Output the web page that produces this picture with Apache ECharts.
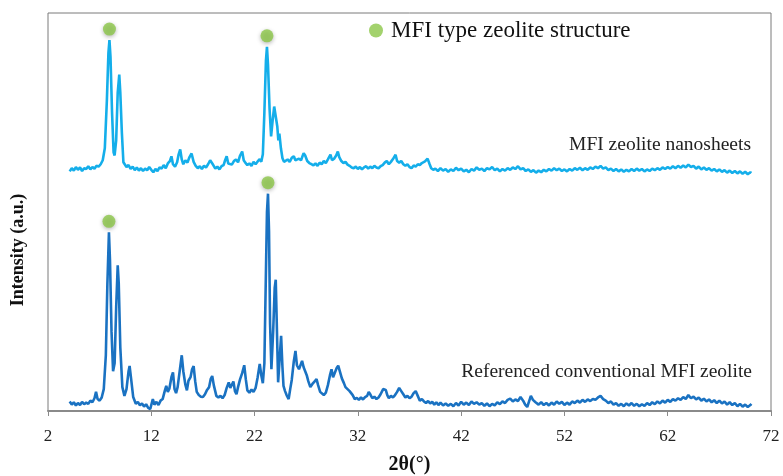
<!DOCTYPE html>
<html>
<head>
<meta charset="utf-8">
<title>XRD patterns of MFI zeolites</title>
<script src="https://cdn.jsdelivr.net/npm/echarts@6/dist/echarts.min.js"></script>
<style>
  html, body { margin: 0; padding: 0; background: #ffffff; }
  #chart { width: 783px; height: 476px; }
</style>
</head>
<body>
<div id="chart"></div>
<script>
// 2θ tick labels of the bottom axis
const twoThetaTicks = [2, 12, 22, 32, 42, 52, 62, 72];

// MFI zeolite nanosheets: [2θ (°), intensity (a.u., offset trace)]
const nanosheets = [
  [4.1,60.2],[4.3,61.0],[4.5,60.4],[4.7,61.3],[4.9,60.6],[5.1,61.2],[5.3,60.3],[5.5,61.0],[5.7,60.8],[5.9,61.5],
  [6.1,60.7],[6.3,61.3],[6.5,60.9],[6.7,61.6],[6.9,61.4],[7.1,62.0],[7.3,63.0],[7.5,66],[7.7,78],[7.85,90],
  [7.95,93.2],[8.05,89],[8.2,75],[8.35,65],[8.45,64.2],[8.6,68],[8.75,80],[8.9,84.5],[9.0,80],[9.15,70],
  [9.3,62.5],[9.45,62.2],[9.6,61.3],[9.8,61.8],[10.0,60.8],[10.2,61.4],[10.4,60.5],[10.6,61.2],[10.8,60.4],[11.0,61.0],
  [11.2,60.3],[11.4,60.9],[11.6,60.5],[11.8,61.3],[12.0,60.6],[12.2,60.0],[12.4,60.8],[12.6,60.3],[12.8,61.2],[13.0,60.9],
  [13.2,61.8],[13.4,61.0],[13.6,62.2],[13.8,62.8],[13.95,64.0],[14.1,62.0],[14.3,61.4],[14.5,62.5],[14.65,64.5],[14.8,65.7],
  [14.95,63.2],[15.1,62.0],[15.3,63.0],[15.5,62.4],[15.7,63.8],[15.9,64.7],[16.1,62.6],[16.3,61.6],[16.5,61.0],[16.7,61.5],
  [16.9,60.8],[17.1,61.6],[17.3,61.2],[17.5,62.0],[17.7,63.0],[17.85,63.3],[18.0,61.8],[18.2,60.9],[18.4,61.4],[18.6,60.7],
  [18.8,61.5],[19.0,61.8],[19.15,63.0],[19.3,64.0],[19.45,62.2],[19.6,62.6],[19.8,61.9],[20.0,62.8],[20.2,63.2],[20.4,62.5],
  [20.6,64.2],[20.8,65.2],[20.95,63.0],[21.1,62.4],[21.3,61.8],[21.5,62.2],[21.7,61.6],[21.9,62.6],[22.1,62.0],[22.3,62.7],
  [22.5,63.3],[22.65,62.6],[22.8,64.5],[22.95,75],[23.1,88],[23.2,91.5],[23.3,87],[23.45,76],[23.6,69.0],[23.75,73],
  [23.9,76.5],[24.05,74],[24.2,71.5],[24.3,68],[24.4,69.7],[24.55,66],[24.7,63.5],[24.85,62.6],[25.0,62.3],[25.2,63.2],
  [25.4,62.6],[25.6,63.6],[25.8,64.0],[25.95,63.0],[26.1,62.6],[26.3,63.4],[26.5,63.0],[26.75,64.8],[26.9,64.2],[27.1,62.8],
  [27.3,62.3],[27.5,62.0],[27.7,61.7],[27.9,62.2],[28.1,61.6],[28.3,62.4],[28.5,62.0],[28.7,62.8],[28.9,62.3],[29.1,63.2],
  [29.35,64.4],[29.5,63.0],[29.7,63.4],[29.9,64.2],[30.06,65.2],[30.2,63.8],[30.4,62.8],[30.6,62.3],[30.8,62.6],[31.0,61.9],
  [31.2,61.6],[31.4,61.2],[31.6,61.0],[31.8,61.4],[32.0,60.8],[32.2,61.3],[32.4,60.7],[32.6,61.2],[32.8,61.5],[33.0,60.9],
  [33.2,61.4],[33.4,61.0],[33.6,61.6],[33.8,61.2],[34.0,61.0],[34.2,61.5],[34.4,61.8],[34.6,62.4],[34.8,62.8],[35.0,62.0],
  [35.2,62.6],[35.4,63.3],[35.65,64.4],[35.8,62.8],[36.0,62.4],[36.2,62.8],[36.4,62.0],[36.6,61.6],[36.8,62.0],[37.0,61.3],
  [37.2,61.0],[37.4,61.7],[37.6,61.4],[37.8,62.0],[38.0,61.8],[38.2,62.3],[38.5,62.7],[38.75,63.4],[38.95,62.0],[39.1,61.0],
  [39.3,60.6],[39.5,60.9],[39.75,60.3],[40.0,61.0],[40.25,60.4],[40.5,60.8],[40.75,60.1],[41.0,60.7],[41.25,60.3],[41.5,61.1],
  [41.75,60.5],[42.0,60.9],[42.25,60.2],[42.5,60.6],[42.75,60.0],[43.0,60.8],[43.25,60.4],[43.5,61.2],[43.75,60.6],[44.0,60.9],
  [44.25,60.3],[44.5,61.0],[44.75,60.7],[45.0,61.3],[45.25,60.5],[45.5,60.9],[45.75,60.2],[46.0,60.8],[46.25,60.4],[46.5,61.0],
  [46.75,60.6],[47.0,61.2],[47.25,60.8],[47.5,61.5],[47.75,60.7],[48.0,61.0],[48.25,60.3],[48.5,60.7],[48.75,60.1],[49.0,60.5],
  [49.25,59.9],[49.5,60.4],[49.75,60.0],[50.0,60.6],[50.25,60.2],[50.5,60.8],[50.75,60.4],[51.0,61.0],[51.25,60.5],[51.5,60.9],
  [51.75,60.3],[52.0,60.7],[52.25,60.2],[52.5,60.8],[52.75,60.4],[53.0,61.0],[53.25,60.6],[53.5,61.1],[53.75,60.5],[54.0,61.0],
  [54.25,60.6],[54.5,61.2],[54.75,60.8],[55.0,61.4],[55.25,61.0],[55.5,61.6],[55.75,60.9],[56.0,61.2],[56.25,60.5],[56.5,60.9],
  [56.75,60.3],[57.0,60.8],[57.25,60.2],[57.5,60.7],[57.75,60.1],[58.0,60.6],[58.25,60.2],[58.5,60.8],[58.75,60.3],[59.0,60.9],
  [59.25,60.4],[59.5,60.8],[59.75,60.2],[60.0,60.7],[60.25,60.3],[60.5,60.9],[60.75,60.5],[61.0,61.0],[61.25,60.6],[61.5,61.2],
  [61.75,60.8],[62.0,61.3],[62.25,60.9],[62.5,61.5],[62.75,61.0],[63.0,61.6],[63.25,61.1],[63.5,61.7],[63.75,61.2],[64.0,61.9],
  [64.25,61.3],[64.5,61.6],[64.75,60.9],[65.0,61.4],[65.25,60.7],[65.5,61.2],[65.75,60.6],[66.0,61.0],[66.25,60.4],[66.5,60.8],
  [66.75,60.2],[67.0,60.7],[67.25,60.1],[67.5,60.5],[67.75,59.9],[68.0,60.4],[68.25,59.8],[68.5,60.3],[68.75,59.7],[69.0,60.2],
  [69.25,59.6],[69.5,60.1],[69.75,59.5],[70.0,60.0],[70.1,59.8]
];

// Referenced conventional MFI zeolite: [2θ (°), intensity (a.u.)]
const conventional = [
  [4.1,2.4],[4.3,1.6],[4.5,2.2],[4.7,1.4],[4.9,2.0],[5.1,1.5],[5.3,2.3],[5.5,1.7],[5.7,2.1],[5.9,1.8],
  [6.1,2.6],[6.3,2.2],[6.5,3.2],[6.65,4.8],[6.8,3.0],[7.0,2.6],[7.2,3.4],[7.4,5.5],[7.6,14],[7.75,32],
  [7.9,44.9],[8.0,38],[8.15,20],[8.3,10],[8.45,12],[8.6,26],[8.75,36.6],[8.85,32],[9.0,16],[9.2,6],
  [9.4,3.8],[9.6,5.5],[9.8,10],[9.9,11.3],[10.05,8],[10.25,3.5],[10.5,1.8],[10.7,2.3],[10.9,1.4],[11.1,1.9],
  [11.3,1.1],[11.5,1.7],[11.7,0.8],[11.9,0.5],[12.05,2.0],[12.15,3.0],[12.3,1.6],[12.5,2.3],[12.7,1.5],[12.9,2.6],
  [13.1,3.0],[13.3,5.0],[13.45,6.3],[13.6,4.8],[13.75,5.6],[13.95,8.5],[14.1,9.7],[14.25,5.5],[14.4,4.5],[14.55,6.0],
  [14.75,10],[14.95,14.0],[15.1,10],[15.3,6.6],[15.45,5.2],[15.6,7.6],[15.8,8.5],[15.95,10.5],[16.1,11.3],[16.25,7.5],
  [16.4,4.8],[16.6,4.0],[16.8,3.6],[17.0,3.5],[17.2,4.2],[17.4,5.3],[17.6,6.0],[17.75,8.0],[17.9,8.8],[18.05,6.5],
  [18.3,3.8],[18.5,3.4],[18.7,3.8],[18.9,3.2],[19.1,4.0],[19.3,5.8],[19.5,7.2],[19.65,5.8],[19.8,6.6],[19.95,7.4],
  [20.1,5.0],[20.25,4.2],[20.4,6.0],[20.6,8.0],[20.8,9.5],[21.0,11.5],[21.15,8.0],[21.3,5.2],[21.5,4.6],[21.7,5.4],
  [21.9,4.8],[22.1,5.8],[22.3,8.5],[22.5,11.8],[22.65,9.0],[22.8,7.0],[22.95,12],[23.1,35],[23.2,50],[23.3,54.6],
  [23.4,45],[23.5,22],[23.63,10.5],[23.8,20],[23.95,31],[24.05,33],[24.15,22],[24.28,7.2],[24.4,12],[24.57,18.9],
  [24.7,11],[24.8,6.3],[24.95,5],[25.1,4.0],[25.3,3.0],[25.45,5.5],[25.6,7.8],[25.8,12.5],[25.96,15.1],[26.1,11.5],
  [26.3,10.5],[26.45,11.0],[26.6,12.6],[26.75,11.0],[26.9,10.5],[27.05,9.0],[27.2,7.5],[27.4,6.0],[27.6,6.8],[27.8,7.4],
  [28.0,8.0],[28.15,6.5],[28.35,4.8],[28.5,4.5],[28.7,4.0],[28.9,4.6],[29.1,6.5],[29.3,9.0],[29.45,10.5],[29.6,8.5],
  [29.75,8.8],[29.95,10.8],[30.1,11.4],[30.25,10],[30.45,8.2],[30.65,7.0],[30.8,6.0],[31.0,5.5],[31.2,5.0],[31.35,5.1],
  [31.5,4.0],[31.7,3.0],[31.9,3.3],[32.1,2.8],[32.3,3.4],[32.5,2.9],[32.7,3.5],[32.9,3.8],[33.05,4.8],[33.2,4.2],
  [33.4,3.2],[33.6,3.6],[33.8,3.0],[34.0,3.4],[34.2,4.2],[34.45,5.5],[34.7,5.3],[34.85,4.0],[35.0,3.2],[35.2,3.8],
  [35.4,3.4],[35.6,4.0],[35.8,4.8],[36.0,5.8],[36.2,5.0],[36.4,4.2],[36.6,3.4],[36.8,3.8],[37.0,3.2],[37.2,3.6],
  [37.4,4.5],[37.6,5.0],[37.8,3.8],[38.0,2.6],[38.2,3.0],[38.4,2.4],[38.6,2.0],[38.8,2.5],[39.0,1.9],[39.2,2.3],
  [39.4,1.6],[39.6,2.2],[39.8,1.5],[40.0,2.1],[40.25,1.4],[40.5,1.9],[40.75,1.3],[41.0,1.8],[41.25,1.2],[41.5,2.0],
  [41.75,1.4],[42.0,2.3],[42.25,1.6],[42.5,2.1],[42.75,1.5],[43.0,2.4],[43.25,1.8],[43.5,2.2],[43.75,1.6],[44.0,2.0],
  [44.25,1.3],[44.5,1.9],[44.75,1.2],[45.0,1.8],[45.25,1.4],[45.5,2.2],[45.75,1.7],[46.0,2.4],[46.25,2.0],[46.5,2.8],
  [46.75,3.1],[47.0,2.4],[47.25,2.9],[47.5,2.5],[47.75,3.5],[48.0,2.6],[48.2,1.6],[48.4,1.0],[48.6,2.6],[48.75,3.8],
  [48.95,2.8],[49.2,2.2],[49.5,1.6],[49.75,2.2],[50.0,1.5],[50.25,2.0],[50.5,1.4],[50.75,2.1],[51.0,1.6],[51.25,2.4],
  [51.5,1.8],[51.75,2.3],[52.0,1.5],[52.25,2.1],[52.5,1.6],[52.75,2.4],[53.0,2.0],[53.25,2.6],[53.5,2.1],[53.75,2.8],
  [54.0,2.3],[54.25,2.9],[54.5,2.5],[54.75,3.0],[55.0,2.8],[55.25,3.4],[55.5,3.8],[55.75,3.0],[56.0,2.6],[56.25,2.0],
  [56.5,2.4],[56.75,1.6],[57.0,2.0],[57.25,1.3],[57.5,1.8],[57.75,1.2],[58.0,1.9],[58.25,1.4],[58.5,2.0],[58.75,1.3],
  [59.0,1.8],[59.25,1.2],[59.5,1.7],[59.75,1.3],[60.0,2.0],[60.25,1.5],[60.5,2.2],[60.75,1.7],[61.0,2.4],[61.25,1.9],
  [61.5,2.6],[61.75,2.1],[62.0,2.8],[62.25,2.3],[62.5,3.0],[62.75,2.6],[63.0,3.2],[63.25,2.8],[63.5,3.5],[63.75,3.0],
  [64.0,4.0],[64.25,3.2],[64.5,3.6],[64.75,2.9],[65.0,3.4],[65.25,2.6],[65.5,3.1],[65.75,2.4],[66.0,2.9],[66.25,2.2],
  [66.5,2.7],[66.75,2.0],[67.0,2.6],[67.25,1.9],[67.5,2.4],[67.75,1.6],[68.0,2.2],[68.25,1.5],[68.5,2.0],[68.75,1.2],
  [69.0,1.8],[69.25,1.1],[69.5,1.6],[69.75,1.0],[70.0,1.5],[70.1,1.8]
];

// Reflections flagged as MFI-type structure (2θ, °) in each pattern
const nanosheetPeaks = [7.95, 23.2];
const conventionalPeaks = [7.9, 23.3];

// Pick the highest point of a pattern within ±0.3° of a given 2θ
function peakPoint(pattern, twoTheta) {
  let best = null;
  pattern.forEach(function (p) {
    if (Math.abs(p[0] - twoTheta) <= 0.3 && (!best || p[1] > best[1])) best = p;
  });
  return best;
}
const mfiMarks = nanosheetPeaks.map(function (t) { return peakPoint(nanosheets, t); })
  .concat(conventionalPeaks.map(function (t) { return peakPoint(conventional, t); }));

const serif = '"Liberation Serif", "Times New Roman", serif';
const chart = echarts.init(document.getElementById('chart'), null, { renderer: 'canvas' });

chart.setOption({
  animation: false,
  backgroundColor: '#ffffff',
  grid: {
    left: 48, right: 12, top: 13, bottom: 65,
    outerBoundsMode: 'none',
    containLabel: false,
    show: true, borderColor: '#7a7a7a', borderWidth: 1, backgroundColor: 'transparent'
  },
  legend: {
    data: ['MFI type zeolite structure'],
    left: 369, top: 19,
    padding: 0,
    itemWidth: 14, itemHeight: 14,
    icon: 'circle',
    textStyle: { fontFamily: serif, fontSize: 23, color: '#111111', padding: [0, 0, 0, 3] }
  },
  xAxis: {
    type: 'value',
    min: twoThetaTicks[0],
    max: twoThetaTicks[twoThetaTicks.length - 1],
    interval: 10,
    name: '2θ(°)',
    nameLocation: 'middle',
    nameGap: 44,
    nameTextStyle: { fontFamily: serif, fontSize: 20, fontWeight: 'bold', color: '#111111' },
    axisLine: { lineStyle: { color: '#8a8a8a', width: 2 } },
    axisTick: { show: true, length: 5, lineStyle: { color: '#8a8a8a', width: 1 } },
    axisLabel: { fontFamily: serif, fontSize: 17, color: '#222222', margin: 17 },
    splitLine: { show: false }
  },
  yAxis: {
    type: 'value',
    min: 0, max: 100,
    axisLine: { show: false },
    axisTick: { show: false },
    axisLabel: { show: false },
    splitLine: { show: false }
  },
  series: [
    {
      name: 'MFI zeolite nanosheets',
      type: 'line',
      data: nanosheets,
      showSymbol: false,
      lineStyle: { color: '#14aeea', width: 2.6 },
      itemStyle: { color: '#14aeea' },
      z: 2
    },
    {
      name: 'Referenced conventional MFI zeolite',
      type: 'line',
      data: conventional,
      showSymbol: false,
      lineStyle: { color: '#1a72c2', width: 2.6 },
      itemStyle: { color: '#1a72c2' },
      z: 2
    },
    {
      name: 'MFI type zeolite structure',
      type: 'scatter',
      data: mfiMarks,
      symbol: 'circle',
      symbolSize: 13,
      symbolOffset: [0, -11],
      itemStyle: {
        color: '#8cc748',
        shadowBlur: 4, shadowColor: 'rgba(0,0,0,0.35)', shadowOffsetY: 1.5
      },
      z: 3
    }
  ],
  graphic: [
    {
      type: 'text', x: 18, y: 250, rotation: Math.PI / 2,
      style: {
        text: 'Intensity (a.u.)', fontFamily: serif, fontSize: 18, fontWeight: 'bold',
        fill: '#111111', textAlign: 'center', textVerticalAlign: 'middle'
      }
    },
    {
      type: 'text', x: 751, y: 145,
      style: {
        text: 'MFI zeolite nanosheets', fontFamily: serif, fontSize: 19.5,
        fill: '#222222', textAlign: 'right', textVerticalAlign: 'middle'
      }
    },
    {
      type: 'text', x: 752, y: 372,
      style: {
        text: 'Referenced conventional MFI zeolite', fontFamily: serif, fontSize: 19.5,
        fill: '#222222', textAlign: 'right', textVerticalAlign: 'middle'
      }
    }
  ]
});
</script>
</body>
</html>
